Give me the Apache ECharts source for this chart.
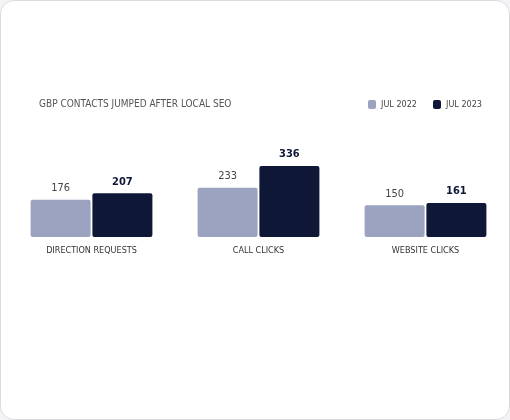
<!DOCTYPE html>
<html>
<head>
<meta charset="utf-8">
<script src="https://cdn.jsdelivr.net/npm/echarts@6/dist/echarts.min.js"></script>
<style>
  html, body { margin: 0; padding: 0; background: #f3f3f5; }
  #card { position: absolute; left: 0; top: 0; width: 508px; height: 418px; background: #fff;
          border: 1px solid #dcdce0; border-radius: 14px; overflow: hidden; }
  #main { width: 508px; height: 418px; }
</style>
</head>
<body>
<div id="card"><div id="main"></div></div>
<script>
var categories = ['DIRECTION REQUESTS', 'CALL CLICKS', 'WEBSITE CLICKS'];
var jul2022 = [176, 233, 150];
var jul2023 = [207, 336, 161];
var fontFam = '"DejaVu Sans Condensed", "Liberation Sans Narrow", sans-serif';

var chart = echarts.init(document.getElementById('main'));
var option = {
	animation : false,
	title : {
		text : 'GBP CONTACTS JUMPED AFTER LOCAL SEO',
		left : 33,
		top : 93,
		textStyle : { fontSize : 10, fontWeight : 'normal', color : '#555', fontFamily : fontFam }
	},
	legend : {
		right : 22,
		top : 94,
		itemWidth : 8,
		itemHeight : 9,
		itemGap : 16,
		icon : 'roundRect',
		textStyle : { fontSize : 9, color : '#444', fontFamily : fontFam },
		data : ['JUL 2022', 'JUL 2023']
	},
	grid : { left : 7, right : -13, top : 165, bottom : 182 },
	xAxis : {
		type : 'category',
		data : categories,
		axisLine : { show : false },
		axisTick : { show : false },
		axisLabel : { margin : 9, fontSize : 9, color : '#333', fontFamily : fontFam }
	},
	yAxis : { type : 'value', min : 0, max : 336, show : false, splitLine : { show : false } },
	series : [ {
		name : 'JUL 2022',
		type : 'bar',
		data : jul2022,
		barWidth : 60,
		barGap : '3%',
		itemStyle : { color : '#9ca3c0', borderRadius : 2 },
		label : { show : true, position : 'top', distance : 6, fontSize : 11, color : '#444', fontFamily : fontFam }
	}, {
		name : 'JUL 2023',
		type : 'bar',
		data : jul2023,
		barWidth : 60,
		itemStyle : { color : '#0f1736', borderRadius : 2 },
		label : { show : true, position : 'top', distance : 6, fontSize : 11, fontWeight : 'bold', color : '#0f1736', fontFamily : fontFam }
	} ]
};
chart.setOption(option);
</script>
</body>
</html>
